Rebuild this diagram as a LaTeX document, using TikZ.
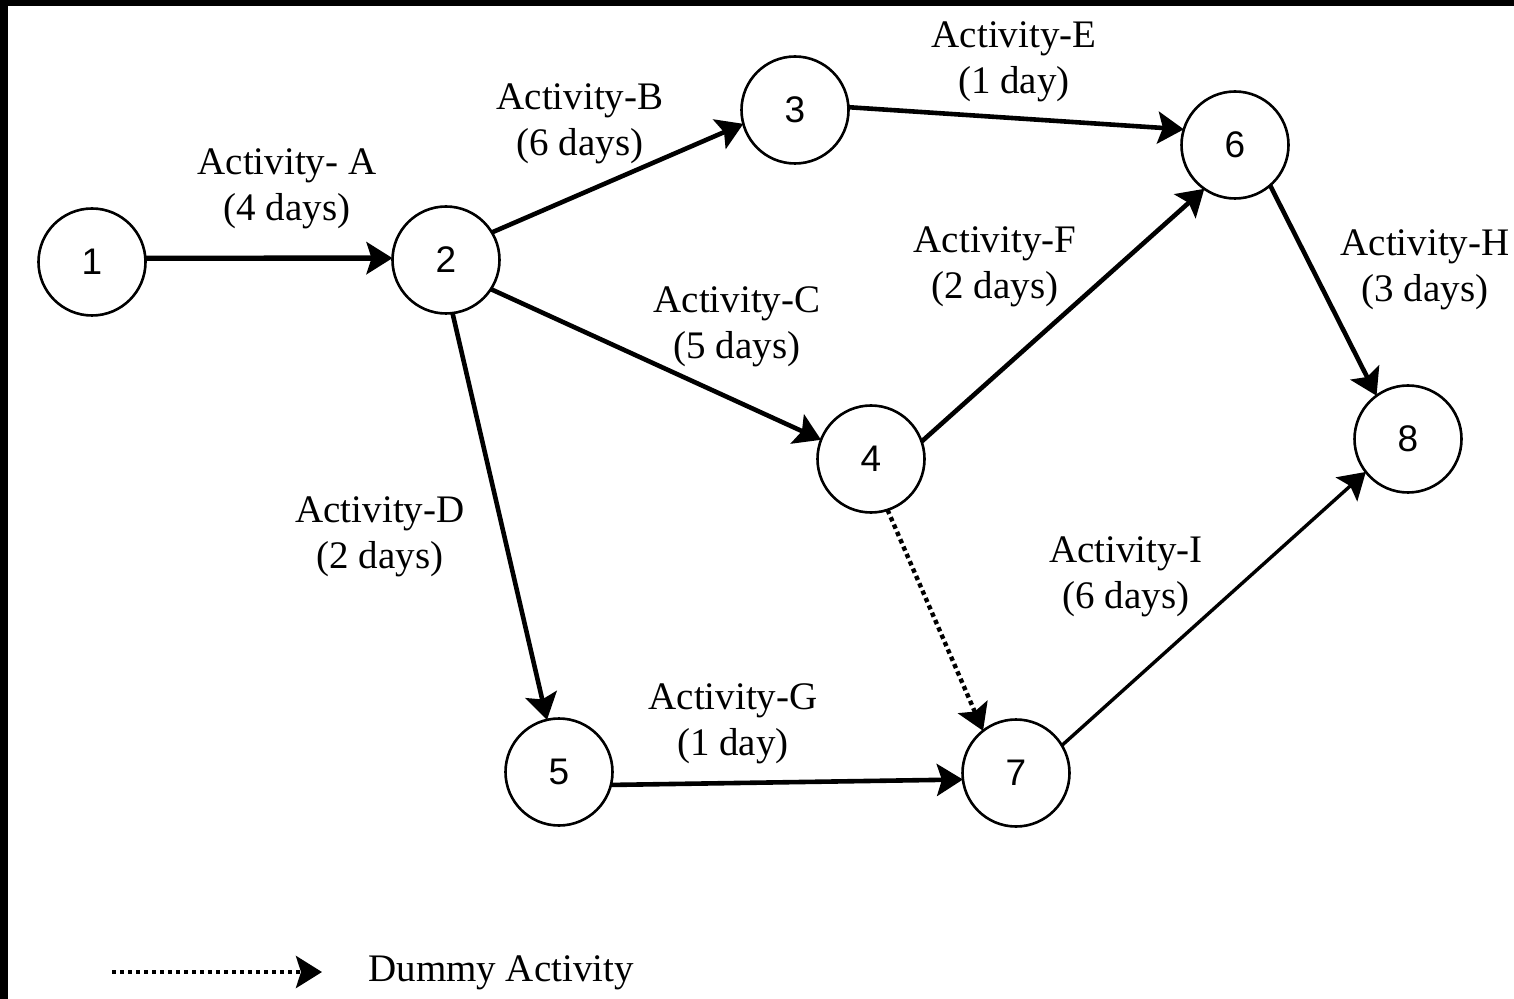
\documentclass[tikz,border=0pt]{standalone}
\usepackage{fontspec}
\setmainfont{Liberation Serif}
\newfontfamily\numfont{Liberation Sans}
\usetikzlibrary{arrows.meta}
\begin{document}
\begin{tikzpicture}[x=0.5pt,y=-0.5pt,
  ev/.style={circle,draw,line width=1.3pt,minimum size=53.5pt,inner sep=0pt,outer sep=0pt,
    font=\numfont\fontsize{18.5}{22}\selectfont},
  act/.style={line width=2.3pt,-{Stealth[length=13pt,width=16pt,inset=2.5pt]}},
  thinact/.style={act,line width=1.7pt},
  dummy/.style={line width=2.2pt,dash pattern=on 2.2pt off 1.8pt,-{Stealth[length=13pt,width=16pt,inset=2.5pt]}},
  lbl/.style={font=\fontsize{19.5}{23}\selectfont,align=center,inner sep=0pt}
]
\useasboundingbox (0,0) rectangle (1514,999);
\fill[white] (0,0) rectangle (1514,999);
\fill[black] (0,0) rectangle (1514,6);
\fill[black] (0,0) rectangle (8,999);

\node[ev] (n1) at (92,262) {1};
\node[ev] (n2) at (446,260) {2};
\node[ev] (n3) at (795,110) {3};
\node[ev] (n6) at (1235,145) {6};
\node[ev] (n4) at (871,459) {4};
\node[ev] (n8) at (1408,439) {8};
\node[ev] (n5) at (559,772) {5};
\node[ev] (n7) at (1016,773) {7};

\draw[act,line width=2.7pt] (n1.4) -- (n2.178);
\draw[act] (n2.31) -- (n3.195);
\draw[act] (n3.3) -- (n6.163);
\draw[act] (n2.-33) -- (n4.159);
\draw[act] (n2.-83) -- (n5.103);
\draw[act] (n4.19) -- (n6.235);
\draw[act] (n6.-49) -- (n8.126);
\draw[act] (n5.346) -- (n7.187);
\draw[dummy] (n4.-72) -- (n7.128);
\draw[thinact] (n7.31) -- (n8.218);

\node[lbl] (la) at (287,189) {Activity- A\\(4 days)};
\node[lbl] (lb) at (580,124) {Activity-B\\(6 days)};
\node[lbl] (le) at (1014,62) {Activity-E\\(1 day)};
\node[lbl] (lf) at (995,267) {Activity-F\\(2 days)};
\node[lbl] (lh) at (1425,270) {Activity-H\\(3 days)};
\node[lbl] (lc) at (737,327) {Activity-C\\(5 days)};
\node[lbl] (ld) at (380,537) {Activity-D\\(2 days)};
\node[lbl] (li) at (1126,577) {Activity-I\\(6 days)};
\node[lbl] (lg) at (733,724) {Activity-G\\(1 day)};

\coordinate (ls) at (112,972);
\coordinate (lend) at (322,972);
\draw[dummy] (ls) -- (lend);
\node[lbl,anchor=west] (leg) at (368,973) {Dummy Activity};
\end{tikzpicture}
\end{document}
